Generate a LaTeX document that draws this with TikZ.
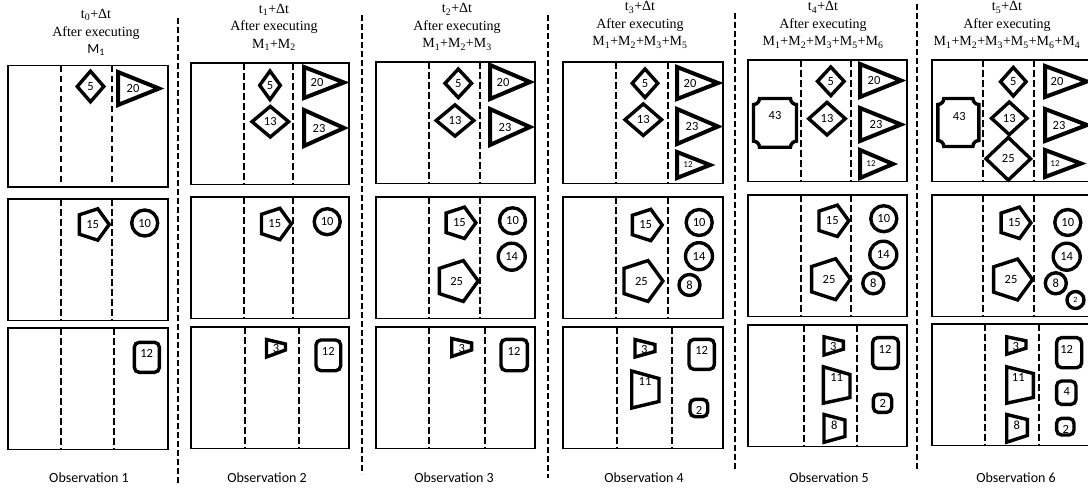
\documentclass[tikz,border=0pt]{standalone}
\usepackage{fontspec}
\setmainfont{Liberation Serif}
\newfontfamily\timesfont{Liberation Serif}
\newfontfamily\calibfont{Carlito}
\usetikzlibrary{shapes.geometric}

\begin{document}
\begin{tikzpicture}[
    x=1pt, y=-1pt,
    panel/.style={draw=black, line width=1.4pt},
    lane/.style={draw=black, line width=2pt, dash pattern=on 6.5pt off 3.5pt},
    divider/.style={draw=black, line width=2pt, dash pattern=on 6pt off 3pt},
    token/.style={draw=black, line width=3.4pt, inner sep=0pt, font=\calibfont\fontsize{12.5}{12.5}\selectfont},
    wedge/.style={draw=black, line width=4pt, line join=miter},
    tag/.style={inner sep=0pt, font=\calibfont\fontsize{12.5}{12.5}\selectfont},
    heading/.style={align=center, font=\timesfont\fontsize{14}{17.5}\selectfont},
    caption/.style={font=\calibfont\fontsize{14}{16}\selectfont}
]
    \useasboundingbox (0,0) rectangle (1088,490);

    % 1. Panels (three boxes per observation, two dashed lanes each)
    \foreach \lx/\rx/\ya/\yb/\yc/\da/\db/\dc/\dd in {
        8/168/65.5/199/328/61/112/61/114,
        191/349/63/197/327/244/293/245/299,
        376/535/62/197/327/429/480/429/485,
        563/723/62/197/327/616/668/617/672,
        748/907/60/195/325/801/851/804/857,
        932/1100/60/195/324/983/1034/985/1039} {
        \draw[panel] (\lx,\ya) rectangle (\rx,\ya+121.5);
        \draw[panel] (\lx,\yb) rectangle (\rx,\yb+121.5);
        \draw[panel] (\lx,\yc) rectangle (\rx,\yc+121.5);
        \draw[lane] (\da,\ya) -- (\da,\ya+121.5);
        \draw[lane] (\db,\ya) -- (\db,\ya+121.5);
        \draw[lane] (\da,\yb) -- (\da,\yb+121.5);
        \draw[lane] (\db,\yb) -- (\db,\yb+121.5);
        \draw[lane] (\dc,\yc) -- (\dc,\yc+121.5);
        \draw[lane] (\dd,\yc) -- (\dd,\yc+121.5);
    }

    % 2. Separators between observations
    \foreach \sx/\st/\sb in {178/18/484, 362/15/474, 548/15/478, 735/13/471, 917/4/469} {
        \draw[divider] (\sx,\st) -- (\sx,\sb);
    }

    % 3. Headings
    \node[heading] (head1) at (96,32.5) {t\textsubscript{0}+Δt\\After executing\\{\calibfont M\textsubscript{1}}};
    \node[heading] (head2) at (274,27) {t\textsubscript{1}+Δt\\After executing\\M\textsubscript{1}+M\textsubscript{2}};
    \node[heading] (head3) at (457,27) {t\textsubscript{2}+Δt\\After executing\\M\textsubscript{1}+M\textsubscript{2}+M\textsubscript{3}};
    \node[heading] (head4) at (640,25) {t\textsubscript{3}+Δt\\After executing\\M\textsubscript{1}+M\textsubscript{2}+M\textsubscript{3}+M\textsubscript{5}};
    \node[heading] (head5) at (823,25) {t\textsubscript{4}+Δt\\After executing\\M\textsubscript{1}+M\textsubscript{2}+M\textsubscript{3}+M\textsubscript{5}+M\textsubscript{6}};
    \node[heading] (head6) at (1007,25) {t\textsubscript{5}+Δt\\After executing\\M\textsubscript{1}+M\textsubscript{2}+M\textsubscript{3}+M\textsubscript{5}+M\textsubscript{6}+M\textsubscript{4}};

    % 4. Diamonds
    \foreach \x/\y/\w/\h/\n [count=\i] in {
        90.5/86.5/14/16/5,
        270/85.3/11/15/5, 270.3/121.7/19/16/13,
        458.3/83.3/14/15/5, 455/120.5/19.5/16.3/13,
        645/83.3/13.5/15/5, 643.3/119.7/19/16.5/13,
        830.8/81.3/14/15/5, 827/118.7/19/17/13,
        1013.3/81.7/13.5/15/5, 1009.3/118.3/18.5/17/13, 1008.3/158.8/23/22/25} {
        \node[token, diamond, minimum width=2*\w, minimum height=2*\h] (dia\i) at (\x,\y) {\n};
    }

    % 5. Triangles
    \foreach \lx/\ty/\by/\ax/\n/\off/\f [count=\i] in {
        118/72/105/159/20/15/12.5,
        304/67/98/344/20/13/12.5, 304/110/146/344/23/15/12.5,
        490/65/99/530/20/13/12.5, 490/109/145/530/23/15/12.5,
        677/67/99/718/20/13/12.5, 677/109/144/718/23/15/12.5, 677/152/178/710/12/11/9,
        860/64/97/901/20/14/12.5, 860/108/141/901/23/16/12.5, 860/150/178/893/12/11/9,
        1045/66/97/1087/20/12/12.5, 1045/109/141/1087/23/14/12.5, 1045/150/177/1081/12/10/9} {
        \draw[wedge] (\lx,\ty) -- (\ax,{(\ty+\by)/2}) -- (\lx,\by) -- cycle;
        \node[tag, font=\calibfont\fontsize{\f}{\f}\selectfont] (tri\i) at (\lx+\off,{(\ty+\by)/2}) {\n};
    }

    % 6. Octagon-like plaques
    \foreach \pa/\pb/\pc/\pd/\nx/\ny [count=\i] in {753.5/98.5/796.5/147.2/775/115, 937.8/98.5/978.9/146.5/959.3/116.7} {
        \draw[token] (\pa+6,\pb) -- (\pc-6,\pb) .. controls (\pc-6,\pb+3.3) and (\pc-3.3,\pb+6) .. (\pc,\pb+6)
            -- (\pc,\pd-6) .. controls (\pc-3.3,\pd-6) and (\pc-6,\pd-3.3) .. (\pc-6,\pd)
            -- (\pa+6,\pd) .. controls (\pa+6,\pd-3.3) and (\pa+3.3,\pd-6) .. (\pa,\pd-6)
            -- (\pa,\pb+6) .. controls (\pa+3.3,\pb+6) and (\pa+6,\pb+3.3) .. cycle;
        \node[tag] (plq\i) at (\nx,\ny) {43};
    }

    % 7. Pentagons
    \foreach \x/\y/\rad/\n [count=\i] in {
        92.7/224.5/16.5/15, 274.8/224/16.5/15,
        459.4/222.8/16.5/15, 456.7/281/21.5/25,
        645.7/225/16.5/15, 641.4/281/21.5/25,
        832.3/220.8/16.5/15, 829/279.2/21.5/25,
        1014.4/222.8/16.5/15, 1011/279.5/21.5/25} {
        \node[token, regular polygon, regular polygon sides=5, shape border rotate=-90, minimum size=2*\rad] (pen\i) at (\x,\y) {\n};
    }

    % 8. Circles
    \foreach \x/\y/\rad/\n/\f [count=\i] in {
        144.7/223/13/10/12.5, 327.2/221.7/13/10/12.5,
        512.5/220.8/13/10/12.5, 511.7/256.7/13.5/14/12.5,
        699.2/222.5/13/10/12.5, 699/256.2/13.5/14/12.5, 689.5/285/10.5/8/12.5,
        883.8/218.7/13/10/12.5, 883.3/254.7/13.5/14/12.5, 873.3/283.3/10.5/8/12.5,
        1067.8/222.5/13/10/12.5, 1066.7/256.7/13.5/14/12.5, 1055.8/283.3/10.5/8/12.5, 1075.5/300/8.5/2/8} {
        \node[token, circle, minimum size=2*\rad, font=\calibfont\fontsize{\f}{\f}\selectfont] (cir\i) at (\x,\y) {\n};
    }

    % 9. Trapezoids
    \foreach \xl/\xr/\yt/\rt/\rb/\yb/\n/\nx/\ny [count=\i] in {
        266.5/285.5/339.5/344/350/357/3/276/348.3,
        451.7/471.6/338.5/343/350/356.5/3/461.7/348.3,
        635/655/339.5/344.5/351.5/357/3/644.3/349.3,
        631.7/659/371/378.5/401.5/408/11/645/381.7,
        824/843.3/336.8/341.2/349.2/355/3/833.3/346.7,
        823.4/850/366.8/374.5/397.5/403.2/11/836.7/377.3,
        824/845/414.5/420/436.5/442.3/8/834.3/425,
        1006.7/1026/336.8/340.8/348.2/354.2/3/1015.7/346,
        1006.7/1033.3/366.8/373.5/397.5/403.2/11/1018.3/377.3,
        1006.7/1027.3/414.5/419.5/435.5/442.2/8/1016.7/425} {
        \draw[token] (\xl,\yt) -- (\xr,\rt) -- (\xr,\rb) -- (\xl,\yb) -- cycle;
        \node[tag] (trap\i) at (\nx,\ny) {\n};
    }

    % 10. Rounded squares
    \foreach \qa/\qb/\qc/\qd/\n/\nx/\ny [count=\i] in {
        134.3/342.3/159.4/372.4/12/146.7/353.3,
        316/340/340.7/370.7/12/328.3/351.7,
        501/339.3/527.4/370.7/12/514/351.7,
        689/339.3/714.4/369.4/12/701.7/350.7,
        690/399.3/707.7/416.7/2/699/410,
        872.6/337.6/898.4/368.4/12/885/349.3,
        873.3/394.3/891.7/412.4/2/882.7/403.3,
        1056.6/337.6/1081.7/367.7/12/1066.7/349.3,
        1056.6/381/1076/404.4/4/1066.7/391.7,
        1056.6/418.3/1074/435/2/1065.7/429.3} {
        \draw[token, rounded corners=5pt] (\qa,\qb) rectangle (\qc,\qd);
        \node[tag] (sq\i) at (\nx,\ny) {\n};
    }

    % 11. Captions
    \foreach \cx/\k in {89/1, 267/2, 454/3, 644/4, 829/5, 1016/6} {
        \node[caption] (obs\k) at (\cx,477.5) {Observation \k};
    }

\end{tikzpicture}
\end{document}
